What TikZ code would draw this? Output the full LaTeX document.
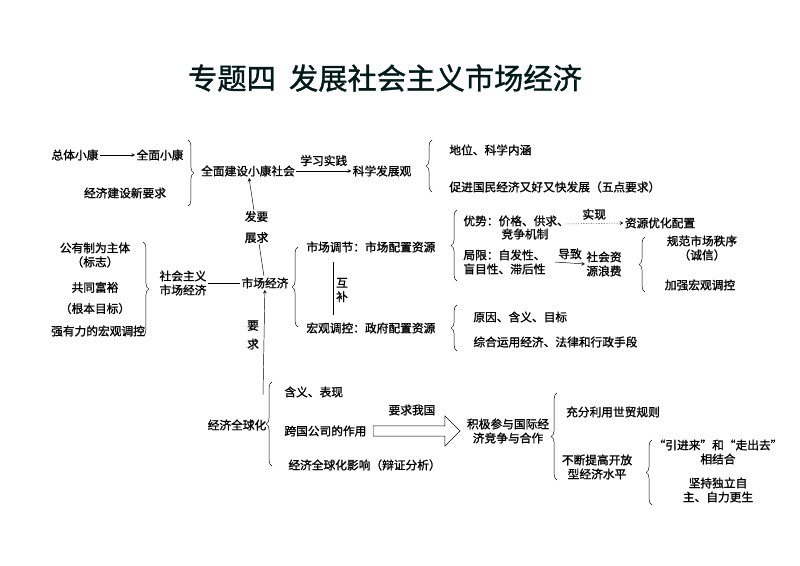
\documentclass[tikz,border=0pt]{standalone}
\usepackage{fontspec}
\setmainfont{Noto Sans CJK SC}[AutoFakeBold=1.2]
\usetikzlibrary{arrows,decorations.pathreplacing,shapes.arrows}
\tikzset{
  txt/.style={inner sep=1pt,align=center,font=\bfseries\fontsize{10}{12}\selectfont},
  brc/.style={decorate,decoration={brace,amplitude=5pt},thin},
  lnk/.style={->,>=stealth,thin}
}
\begin{document}
\begin{tikzpicture}[x=0.03cm,y=-0.03cm]
        \useasboundingbox (0,0) rectangle (800,566);
        % Title
        \node[font=\bfseries\fontsize{25}{28}\selectfont,text=black!80!teal] (title) at (385,78) {专题四\ \ 发展社会主义市场经济};

        % Top row
        \node[txt] (ztxk) at (75,155) {总体小康};
        \node[txt] (qmxk) at (160,155) {全面小康};
        \node[txt] (jjjs) at (125,193) {经济建设新要求};
        \draw[lnk] (ztxk) -- (qmxk);
        \draw[brc] (188,140) -- (188,206);
        \node[txt] (qmjs) at (248,171) {全面建设小康社会};
        \node[txt] (kxfz) at (382,171) {科学发展观};
        \draw[lnk] (qmjs.east) -- node[txt,above=3pt] {学习实践} (kxfz.west);
        \draw[brc] (432,192) -- (432,140);
        \node[txt,anchor=west] (dw) at (448,150) {地位、科学内涵};
        \node[txt,anchor=west] (cj) at (448,187) {促进国民经济又好又快发展（五点要求）};

        % Left group
        \node[txt] (gyz) at (95,255) {公有制为主体\\（标志）};
        \node[txt] (gtfy) at (95,298) {共同富裕\\[6pt]（根本目标）};
        \node[txt] (qyl) at (98,331) {强有力的宏观调控};
        \draw[brc] (143,242) -- (143,336);
        \node[txt] (shzy) at (183,283) {社会主义\\市场经济};
        \node[txt] (scjj) at (265,283) {市场经济};
        \draw (shzy) -- (scjj);
        \draw[lnk] (scjj) -- node[txt,fill=white] {发要\\[6pt]展求} (qmjs);

        % Market regulation
        \draw[brc] (298,327) -- (298,247);
        \node[txt,anchor=west] (sctj) at (305,247) {市场调节：市场配置资源};
        \node[txt,anchor=west] (hgtk) at (305,328) {宏观调控：政府配置资源};
        \draw (333,262) -- (333,315);
        \node[txt] (hb) at (342,290) {互\\补};
        \draw[brc] (457,281) -- (457,210);
        \node[txt,anchor=west] (ys) at (462,221) {优势：价格、供求、};
        \node[txt] (jzjz) at (525,234) {竞争机制};
        \node[txt] (yhpz) at (660,223) {资源优化配置};
        \draw[lnk,densely dotted] (565,224) -- node[txt,above=2pt] {实现} (yhpz.west);
        \node[txt,anchor=west] (jx) at (462,262) {局限：自发性、\\盲目性、滞后性};
        \node[txt] (lf) at (604,264) {社会资\\源浪费};
        \draw[lnk] (555,262) -- node[txt,above=2pt] {导致} (lf.west);
        \draw[brc] (645,292) -- (645,237);
        \node[txt] (gf) at (702,248) {规范市场秩序\\（诚信）};
        \node[txt] (jq) at (700,285) {加强宏观调控};
        \draw[brc] (457,351) -- (457,305);
        \node[txt,anchor=west] (yy) at (472,317) {原因、含义、目标};
        \node[txt,anchor=west] (zh) at (472,342) {综合运用经济、法律和行政手段};

        % Globalization
        \node[txt] (qqh) at (237,425) {经济全球化};
        \coordinate (qqhtop) at (263,395);
        \draw[lnk] (qqhtop) -- (scjj);
        \node[txt] (yq) at (253,335) {要\\[4pt]求};
        \draw[brc] (272,466) -- (272,382);
        \node[txt,anchor=west] (hy) at (283,392) {含义、表现};
        \node[txt,anchor=west] (kg) at (283,431) {跨国公司的作用};
        \node[txt,anchor=west] (yx) at (287,465) {经济全球化影响（辩证分析）};
        \node[txt] (jjcy) at (508,431) {积极参与国际经\\济竞争与合作};
        \node[draw,single arrow,minimum height=2.6cm,minimum width=0.9cm,single arrow head extend=0.08cm,inner sep=1pt] (bigarr) at (414,431) {};
        \node[txt] (yqwg) at (412,410) {要求我国};
        \draw[brc] (557,480) -- (557,393);
        \node[txt] (cf) at (613,412) {充分利用世贸规则};
        \node[txt] (bd) at (597,467) {不断提高开放\\型经济水平};
        \draw[brc] (652,505) -- (652,440);
        \node[txt] (yjl) at (718,452) {“引进来”和“走出去”\\相结合};
        \node[txt] (jc) at (718,490) {坚持独立自\\主、自力更生};
\end{tikzpicture}
\end{document}
